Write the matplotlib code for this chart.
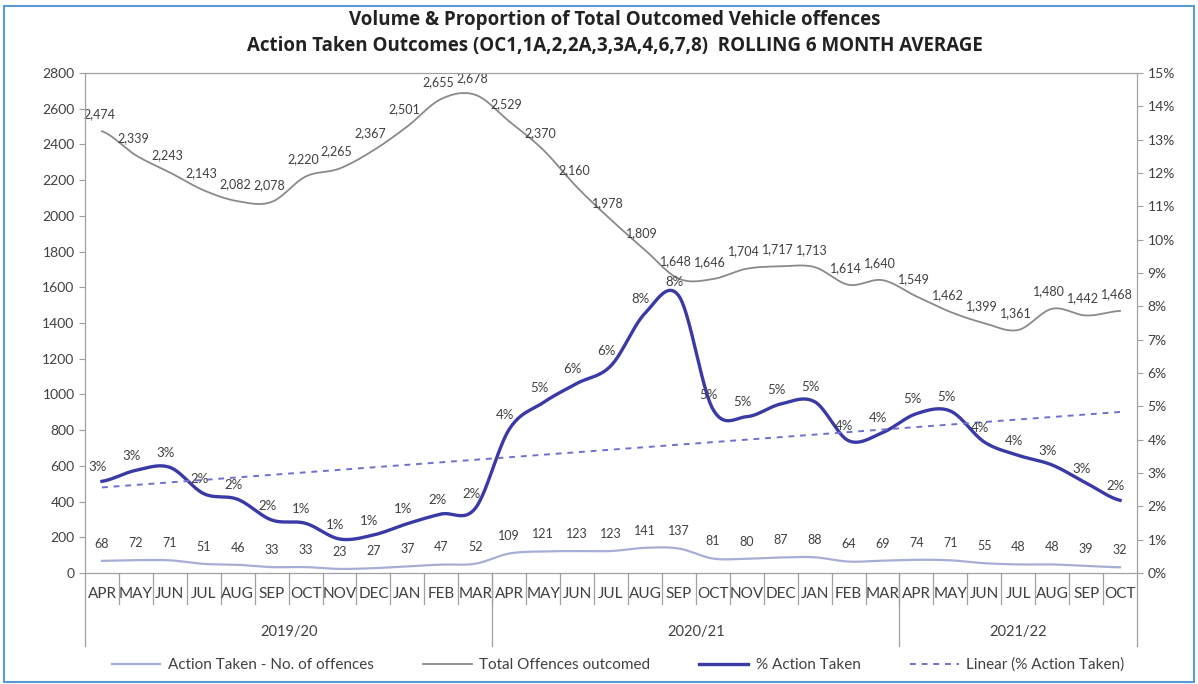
import numpy as np
import matplotlib.pyplot as plt
from matplotlib.patches import Rectangle
from matplotlib.lines import Line2D
from matplotlib.ticker import FuncFormatter

plt.rcParams['font.family'] = ['Lato', 'DejaVu Sans']

months = ["APR", "MAY", "JUN", "JUL", "AUG", "SEP", "OCT", "NOV", "DEC", "JAN", "FEB", "MAR",
          "APR", "MAY", "JUN", "JUL", "AUG", "SEP", "OCT", "NOV", "DEC", "JAN", "FEB", "MAR",
          "APR", "MAY", "JUN", "JUL", "AUG", "SEP", "OCT"]
years = ["2019/20", "2020/21", "2021/22"]
year_sizes = [12, 12, 7]

total_outcomed = [2474, 2339, 2243, 2143, 2082, 2078, 2220, 2265, 2367, 2501, 2655, 2678,
                  2529, 2370, 2160, 1978, 1809, 1648, 1646, 1704, 1717, 1713, 1614, 1640,
                  1549, 1462, 1399, 1361, 1480, 1442, 1468]
action_taken = [68, 72, 71, 51, 46, 33, 33, 23, 27, 37, 47, 52,
                109, 121, 123, 123, 141, 137, 81, 80, 87, 88, 64, 69,
                74, 71, 55, 48, 48, 39, 32]
pct_action = [2.75, 3.08, 3.17, 2.38, 2.21, 1.59, 1.49, 1.02, 1.14, 1.48, 1.77, 1.94,
              4.31, 5.11, 5.69, 6.22, 7.79, 8.31, 4.92, 4.69, 5.07, 5.14, 3.97, 4.21,
              4.78, 4.86, 3.93, 3.53, 3.24, 2.70, 2.18]

C_ACTION = '#A7AED6'
C_TOTAL = '#8A8A8A'
C_PCT = '#3A3AA6'
C_TREND = '#6F6FCF'
C_TEXT = '#404040'


def smooth(y, n=24):
    # catmull-rom through every point, like excel's smoothed line
    y = np.asarray(y, float)
    p = np.concatenate([[y[0]], y, [y[-1]]])
    xs, ys = [], []
    for i in range(len(y) - 1):
        p0, p1, p2, p3 = p[i], p[i + 1], p[i + 2], p[i + 3]
        t = np.linspace(0, 1, n, endpoint=False)
        yy = 0.5 * ((2 * p1) + (-p0 + p2) * t + (2 * p0 - 5 * p1 + 4 * p2 - p3) * t ** 2
                    + (-p0 + 3 * p1 - 3 * p2 + p3) * t ** 3)
        xs.append(i + t)
        ys.append(yy)
    xs.append([len(y) - 1])
    ys.append([y[-1]])
    return np.concatenate(xs), np.concatenate(ys)


x = np.arange(len(months))

fig = plt.figure(figsize=(11.98, 6.84), dpi=100)
fig.subplots_adjust(left=85 / 1198, right=1137 / 1198, top=1 - 73 / 684, bottom=1 - 573 / 684)
ax = fig.add_subplot(111)
ax2 = ax.twinx()

fig.patches.append(Rectangle((4 / 1198, 2 / 684), 1 - 8 / 1198, 1 - 8 / 684, transform=fig.transFigure,
                             fill=False, edgecolor='#5B9BD5', linewidth=1.5))

sx, sy = smooth(action_taken)
ax.plot(sx, sy, color=C_ACTION, lw=1.6)
sx, sy = smooth(total_outcomed)
ax.plot(sx, sy, color=C_TOTAL, lw=1.3)

for xi, v in zip(x, total_outcomed):
    ax.annotate(f"{v:,}", (xi, v), xytext=(-2, 8), textcoords='offset points',
                ha='center', va='bottom', fontsize=9, color=C_TEXT)
for xi, v in zip(x, action_taken):
    ax.annotate(f"{v}", (xi, v), xytext=(0, 8), textcoords='offset points',
                ha='center', va='bottom', fontsize=9, color=C_TEXT)

sx, sy = smooth(pct_action)
ax2.plot(sx, sy, color=C_PCT, lw=2.4)
coef = np.polyfit(x, pct_action, 1)
ax2.plot(x, np.polyval(coef, x), color=C_TREND, lw=1.4, ls=(0, (3, 3)))
for xi, v in zip(x, pct_action):
    ax2.annotate(f"{v:.0f}%", (xi, v), xytext=(-3, 6), textcoords='offset points',
                 ha='center', va='bottom', fontsize=9.5, color=C_TEXT)

ax.set_xlim(-0.5, len(months) - 0.5)
ax.set_ylim(0, 2800)
ax.set_yticks(range(0, 2801, 200))
ax2.set_ylim(0, 15)
ax2.set_yticks(range(0, 16))
ax2.yaxis.set_major_formatter(FuncFormatter(lambda v, _: f"{v:.0f}%"))
ax.set_xticks([])

for a in (ax, ax2):
    for s in a.spines.values():
        s.set_color('#A0A0A0')
    a.tick_params(axis='y', labelsize=10, colors=C_TEXT, length=4, color='#A0A0A0')

# two-level category axis: months, then financial years
trans = ax.get_xaxis_transform()
for xi, m in zip(x, months):
    ax.text(xi, -0.042, m, transform=trans, ha='center', va='center', fontsize=11, color=C_TEXT)
for k in range(1, len(months)):
    ax.plot([k - 0.5, k - 0.5], [0, -0.062], transform=trans, color='#A0A0A0', lw=0.9, clip_on=False)
start = 0
edges = [-0.5]
for yr, n in zip(years, year_sizes):
    ax.text(start + (n - 1) / 2, -0.118, yr, transform=trans, ha='center', va='center',
            fontsize=10.5, color=C_TEXT)
    start += n
    edges.append(start - 0.5)
for e in edges:
    ax.plot([e, e], [0, -0.145], transform=trans, color='#A0A0A0', lw=0.9, clip_on=False)

title_font = dict(ha='center', va='center', fontsize=13.5, fontweight='bold', color='#222222',
                  family=['Open Sans', 'DejaVu Sans'])
fig.text(615 / 1198, 1 - 20 / 684, "Volume & Proportion of Total Outcomed Vehicle offences", **title_font)
fig.text(615 / 1198, 1 - 46 / 684,
         "Action Taken Outcomes (OC1,1A,2,2A,3,3A,4,6,7,8)  ROLLING 6 MONTH AVERAGE", **title_font)

handles = [Line2D([], [], color=C_ACTION, lw=1.6), Line2D([], [], color=C_TOTAL, lw=1.3),
           Line2D([], [], color=C_PCT, lw=2.4), Line2D([], [], color=C_TREND, lw=1.4, ls=(0, (3, 3)))]
labels = ["Action Taken - No. of offences", "Total Offences outcomed", "% Action Taken",
          "Linear (% Action Taken)"]
fig.legend(handles, labels, loc='center', bbox_to_anchor=(618 / 1198, 1 - 665 / 684), ncol=4,
           frameon=False, fontsize=11, handlelength=3.2, handletextpad=0.5, columnspacing=3.2,
           labelcolor=C_TEXT)

fig.savefig("out.png", dpi=100)
